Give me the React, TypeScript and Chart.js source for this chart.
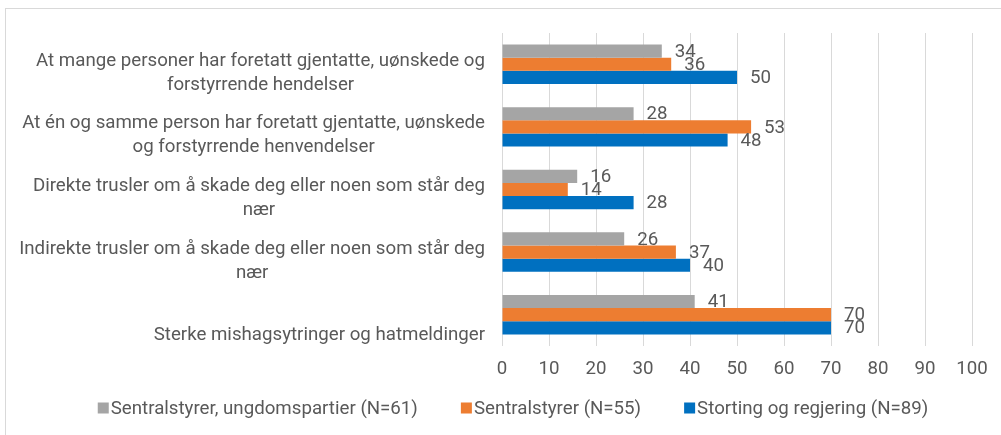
import React, { useEffect, useRef } from "react";
import { Chart, registerables } from "chart.js";

Chart.register(...registerables);

const categories: string[][] = [
  ["At mange personer har foretatt gjentatte, uønskede og", "forstyrrende hendelser"],
  ["At én og samme person har foretatt gjentatte, uønskede", "og forstyrrende henvendelser"],
  ["Direkte trusler om å skade deg eller noen som står deg", "nær"],
  ["Indirekte trusler om å skade deg eller noen som står deg", "nær"],
  ["Sterke mishagsytringer og hatmeldinger"],
];

const seriesNames = [
  "Sentralstyrer, ungdomspartier (N=61)",
  "Sentralstyrer (N=55)",
  "Storting og regjering (N=89)",
];
const ungdom = [34, 28, 16, 26, 41];
const sentral = [36, 53, 14, 37, 70];
const storting = [50, 48, 28, 40, 70];
const colors = ["#A5A5A5", "#ED7D31", "#0070C0"];

const FONT = "Roboto, 'Open Sans', sans-serif";
const FS = 18.7;
const TEXT = "#595959";

const App: React.FC = () => {
  const ref = useRef<HTMLCanvasElement | null>(null);
  useEffect(() => {
    document.body.style.margin = "0";
    const canvas = ref.current!;
    const labelPlugin = {
      id: "custom",
      beforeDraw(chart: any) {
        const ctx = chart.ctx;
        ctx.save();
        ctx.fillStyle = "#ffffff";
        ctx.fillRect(0, 0, chart.width, chart.height);
        ctx.strokeStyle = "#d9d9d9";
        ctx.lineWidth = 1;
        ctx.strokeRect(5.5, 8.5, 1200, 600);
        ctx.restore();
      },
      afterDatasetsDraw(chart: any) {
        const ctx = chart.ctx;
        ctx.save();
        ctx.font = `${FS}px ${FONT}`;
        ctx.fillStyle = TEXT;
        ctx.textBaseline = "middle";
        ctx.textAlign = "left";
        chart.data.datasets.forEach((ds: any, i: number) => {
          const meta = chart.getDatasetMeta(i);
          meta.data.forEach((bar: any, j: number) => {
            ctx.fillText(String(ds.data[j]), bar.x + 13, bar.y + 1);
          });
        });
        // category labels
        const yScale = chart.scales.y;
        const right = chart.chartArea.left - 17;
        const lh = 24;
        categories.forEach((lines, j) => {
          const center = yScale.getPixelForValue(j);
          const bottom = center + (yScale.height / categories.length) / 2;
          const maxW = Math.max(...lines.map((l) => ctx.measureText(l).width));
          const cx = right - maxW / 2;
          ctx.textAlign = "center";
          lines.forEach((l, k) => {
            const y = bottom - 10.5 - (lines.length - 1 - k) * lh;
            ctx.fillText(l, cx, y);
          });
        });
        // legend
        const box = 11;
        const gapBoxText = 2;
        const gapItems = 43;
        const widths = seriesNames.map((n) => box + gapBoxText + ctx.measureText(n).width);
        const total = widths.reduce((a, b) => a + b, 0) + gapItems * (widths.length - 1);
        let x = 513 - total / 2;
        const ly = 408;
        ctx.textAlign = "left";
        seriesNames.forEach((n, i) => {
          ctx.fillStyle = colors[i];
          ctx.fillRect(x, ly - box / 2, box, box);
          ctx.fillStyle = TEXT;
          ctx.fillText(n, x + box + gapBoxText, ly + 1);
          x += widths[i] + gapItems;
        });
        ctx.restore();
      },
    };

    const chart = new Chart(canvas, {
      type: "bar",
      data: {
        labels: categories.map((c) => c.join(" ")),
        datasets: [
          { label: seriesNames[0], data: ungdom, backgroundColor: colors[0] },
          { label: seriesNames[1], data: sentral, backgroundColor: colors[1] },
          { label: seriesNames[2], data: storting, backgroundColor: colors[2] },
        ],
      },
      options: {
        indexAxis: "y",
        animation: false,
        responsive: false,
        devicePixelRatio: 1,
        layout: { padding: { top: 33, right: 29, bottom: 42.6, left: 0 } },
        datasets: { bar: { categoryPercentage: 0.63, barPercentage: 1 } },
        plugins: {
          legend: { display: false },
          tooltip: { enabled: false },
        },
        scales: {
          x: {
            min: 0,
            max: 100,
            ticks: {
              stepSize: 10,
              color: TEXT,
              font: { family: FONT, size: FS },
              padding: 12,
              maxRotation: 0,
            },
            grid: { color: "#d9d9d9", drawTicks: false, lineWidth: 1 },
            border: { display: false },
          },
          y: {
            ticks: { display: false },
            grid: { display: false, drawTicks: false },
            border: { display: false },
            afterFit: (scale: any) => {
              scale.width = 502;
            },
          },
        },
      },
      plugins: [labelPlugin],
    });
    return () => chart.destroy();
  }, []);
  return (
    <div style={{ position: "absolute", left: 0, top: 0, width: 1001, height: 435 }}>
      <canvas ref={ref} width={1001} height={435} style={{ width: 1001, height: 435 }} />
    </div>
  );
};

export default App;
